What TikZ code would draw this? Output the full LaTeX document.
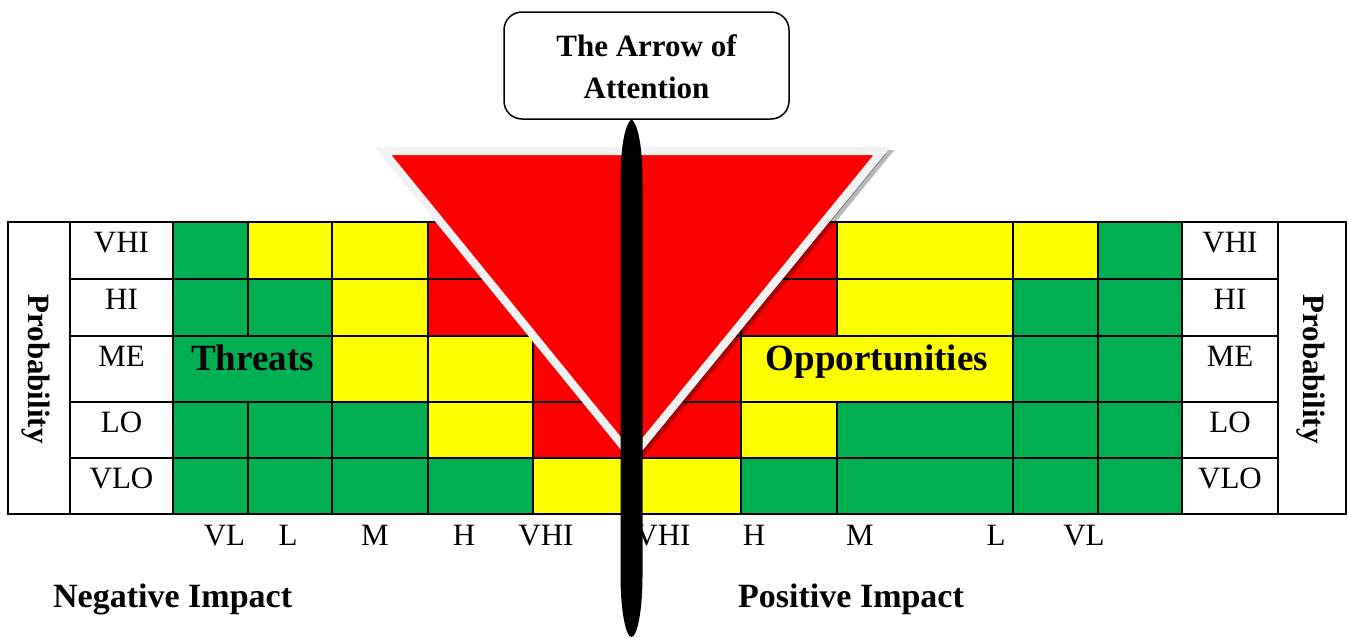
\documentclass[tikz,border=0pt]{standalone}
\usepackage{fontspec}
\setmainfont{Liberation Serif}
\definecolor{rgreen}{HTML}{00B050}
\definecolor{ryellow}{HTML}{FFFF00}
\definecolor{rred}{HTML}{FF0000}
\definecolor{tborder}{HTML}{F2F2F2}
\begin{document}
\begin{tikzpicture}[x=1pt,y=-1pt,
  cellbox/.style={draw=black,line width=2pt},
  rowlab/.style={anchor=base,font=\fontsize{31}{31}\selectfont,inner sep=0pt},
  impactlab/.style={anchor=base,font=\fontsize{31}{31}\selectfont,inner sep=0pt},
  zonelab/.style={anchor=base,font=\fontsize{37}{37}\selectfont\bfseries,inner sep=0pt},
  axislab/.style={anchor=base west,font=\fontsize{34}{34}\selectfont\bfseries,inner sep=0pt},
  problab/.style={rotate=-90,font=\fontsize{31}{31}\selectfont\bfseries,inner sep=0pt},
  titlebox/.style={draw=black,line width=1.5pt,rounded corners=18pt,fill=white},
  trishape/.style={fill=rred,draw=tborder,line width=8pt,line join=miter},
  trishadow/.style={fill=black,draw=black,line width=8pt,line join=miter,opacity=0.28},
  barshape/.style={fill=black}]
\useasboundingbox (0,0) rectangle (1348,637);
\fill[white] (0,0) rectangle (1348,637);

% probability columns
\draw[cellbox,fill=white] (8,222) rectangle (70,514);
\draw[cellbox,fill=white] (1278,222) rectangle (1346,514);
% label columns
\foreach \ya/\yb in {222/279,279/336,336/402,402/458,458/514}{
  \draw[cellbox,fill=white] (70,\ya) rectangle (173,\yb);
  \draw[cellbox,fill=white] (1182,\ya) rectangle (1278,\yb);
}
% coloured cells: xa/xb/ya/yb/colour
\foreach \xa/\xb/\ya/\yb/\c in {
  173/248/222/279/rgreen, 248/332/222/279/ryellow, 332/428/222/279/ryellow, 428/533/222/279/rred, 533/631.5/222/279/rred,
  631.5/741/222/279/rred, 741/837/222/279/rred, 837/1013/222/279/ryellow, 1013/1098/222/279/ryellow, 1098/1182/222/279/rgreen,
  173/248/279/336/rgreen, 248/332/279/336/rgreen, 332/428/279/336/ryellow, 428/533/279/336/rred, 533/631.5/279/336/rred,
  631.5/741/279/336/rred, 741/837/279/336/rred, 837/1013/279/336/ryellow, 1013/1098/279/336/rgreen, 1098/1182/279/336/rgreen,
  173/332/336/402/rgreen, 332/428/336/402/ryellow, 428/533/336/402/ryellow, 533/631.5/336/402/rred,
  631.5/741/336/402/rred, 741/1013/336/402/ryellow, 1013/1098/336/402/rgreen, 1098/1182/336/402/rgreen,
  173/248/402/458/rgreen, 248/332/402/458/rgreen, 332/428/402/458/rgreen, 428/533/402/458/ryellow, 533/631.5/402/458/rred,
  631.5/741/402/458/rred, 741/837/402/458/ryellow, 837/1013/402/458/rgreen, 1013/1098/402/458/rgreen, 1098/1182/402/458/rgreen,
  173/248/458/514/rgreen, 248/332/458/514/rgreen, 332/428/458/514/rgreen, 428/533/458/514/rgreen, 533/631.5/458/514/ryellow,
  631.5/741/458/514/ryellow, 741/837/458/514/rgreen, 837/1013/458/514/rgreen, 1013/1098/458/514/rgreen, 1098/1182/458/514/rgreen}{
  \draw[cellbox,fill=\c] (\xa,\ya) rectangle (\xb,\yb);
}

% row labels
\foreach \t/\yb/\n in {VHI/252/a,HI/309/b,ME/366/c,LO/432/d,VLO/488/e}{
  \node[rowlab] (ll\n) at (121.5,\yb) {\t};
  \node[rowlab] (rl\n) at (1230,\yb) {\t};
}
\node[problab] (probL) at (36,369) {Probability};
\node[problab] (probR) at (1311,369) {Probability};

\node[zonelab] (threats) at (252.5,370) {Threats};
\node[zonelab] (opps) at (877,370) {Opportunities};

% triangle
\draw[trishadow,xshift=4pt,yshift=-3pt] (383,151) -- (882,151) -- (632,457) -- cycle;
\draw[trishape] (383,151) -- (882,151) -- (632,457) -- cycle;

% impact labels
\foreach \t/\xx/\n in {VL/224.5/a,L/288/b,M/375/c,H/464/d,VHI/546/e}{
  \node[impactlab] (nl\n) at (\xx,545) {\t};
}
\foreach \t/\xx/\n in {VHI/663/e,H/754/d,M/860/c,L/996/b,VL/1084/a}{
  \node[impactlab] (pl\n) at (\xx,545) {\t};
}
\node[axislab] (neg) at (53,607) {Negative Impact};
\node[axislab] (pos) at (738,607) {Positive Impact};

% the arrow bar
\fill[barshape] (631.5,119) .. controls (624,126) and (620.5,150) .. (620.5,182)
  -- (620.5,575) .. controls (620.5,612) and (626,637) .. (631.5,637)
  .. controls (637,637) and (642.5,612) .. (642.5,575)
  -- (642.5,182) .. controls (642.5,150) and (639,126) .. (631.5,119) -- cycle;

% title box
\draw[titlebox] (504,12) rectangle (789,119);
\node[font=\fontsize{31}{42}\selectfont\bfseries,align=center,inner sep=0pt] (title) at (646.5,67) {The Arrow of\\Attention};
\end{tikzpicture}
\end{document}
